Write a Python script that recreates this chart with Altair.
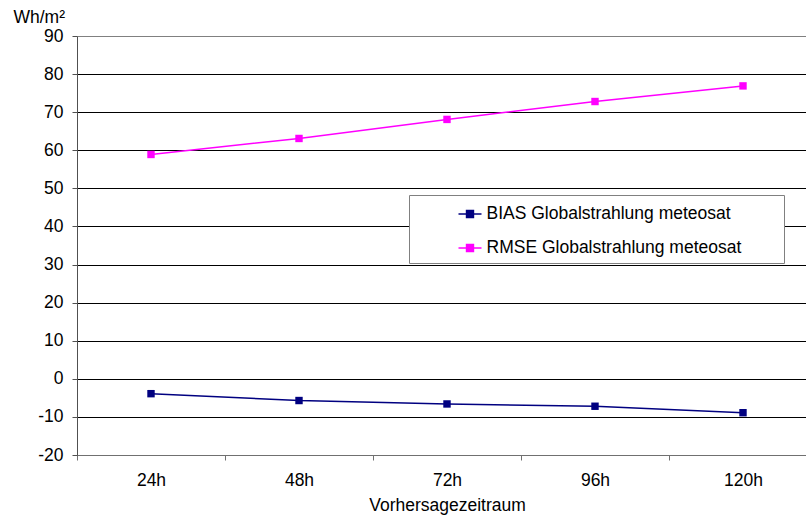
import altair as alt
import pandas as pd

categories = ["24h", "48h", "72h", "96h", "120h"]
bias = [-3.9, -5.7, -6.6, -7.2, -8.9]
rmse = [58.9, 63.1, 68.1, 72.8, 76.9]
series_names = ["BIAS Globalstrahlung meteosat", "RMSE Globalstrahlung meteosat"]
series_colors = ["#000080", "#FF00FF"]

rows = []
for i, c in enumerate(categories):
    rows.append({"Zeitraum": c, "pos": i + 1, "Serie": series_names[0], "Wert": bias[i]})
    rows.append({"Zeitraum": c, "pos": i + 1, "Serie": series_names[1], "Wert": rmse[i]})
df = pd.DataFrame(rows)

FONT = "Liberation Sans"
FS = 17.5
label_arr = "[" + ",".join("'" + c + "'" for c in categories) + "]"
x_vals = [0.5, 1, 1.5, 2, 2.5, 3, 3.5, 4, 4.5, 5]

x_enc = alt.X(
    "pos:Q",
    scale=alt.Scale(domain=[0.5, 5.4257], nice=False, zero=False),
    axis=alt.Axis(
        values=x_vals,
        labelExpr="datum.value % 1 === 0 ? " + label_arr + "[datum.value - 1] : ''",
        tickColor={"condition": {"test": "datum.value % 1 !== 0", "value": "#707070"}, "value": "transparent"},
        tickSize=5,
        grid=False,
        domainColor="#707070",
        labelFont=FONT,
        labelFontSize=FS,
        labelColor="#000000",
        labelPadding=11,
        labelBaseline="top",
        labelFlush=False,
        labelOverlap=False,
        title="Vorhersagezeitraum",
        titleFont=FONT,
        titleFontSize=FS,
        titleFontWeight="normal",
        titleColor="#000000",
        titleX=370,
        titleY=55,
        titleBaseline="alphabetic",
    ),
)
y_enc = alt.Y(
    "Wert:Q",
    scale=alt.Scale(domain=[-20, 90], nice=False, zero=False),
    axis=alt.Axis(
        values=list(range(-20, 91, 10)),
        labelExpr="'' + datum.value",
        tickSize=5,
        tickColor="#505050",
        domainColor="#505050",
        grid=True,
        gridColor={"condition": {"test": "datum.value === 90", "value": "#808080"}, "value": "#000000"},
        gridWidth=1,
        labelFont=FONT,
        labelFontSize=FS,
        labelColor="#000000",
        labelPadding=9,
        title="Wh/m²",
        titleFont=FONT,
        titleFontSize=FS,
        titleFontWeight="normal",
        titleColor="#000000",
        titleAngle=0,
        titleAlign="left",
        titleBaseline="alphabetic",
        titleX=-64,
        titleY=-14,
    ),
)
color_enc = alt.Color(
    "Serie:N",
    scale=alt.Scale(domain=series_names, range=series_colors),
    legend=alt.Legend(
        title="\u00a0",
        titleOrient="right",
        titlePadding=36,
        titleFontSize=FS,
        orient="none",
        legendX=332,
        legendY=159,
        fillColor="#FFFFFF",
        strokeColor="#808080",
        padding=6.5,
        labelFont=FONT,
        labelFontSize=FS,
        labelColor="#000000",
        labelLimit=500,
        symbolType="M-1,0L1,0M-0.3,-0.3L0.3,-0.3L0.3,0.3L-0.3,0.3Z",
        symbolSize=529,
        symbolStrokeWidth=1.5,
        symbolOffset=42,
        rowPadding=13,
        labelOffset=4,
    ),
)

base = alt.Chart(df).encode(x=x_enc, y=y_enc, color=color_enc)
lines = base.mark_line(strokeWidth=1.5)
points = base.mark_point(shape="square", filled=True, size=55, opacity=1)

chart = (
    alt.layer(lines, points)
    .properties(
        width=729,
        height=419,
        autosize=alt.AutoSizeParams(type="none"),
        padding={"left": 77, "top": 36, "right": 0, "bottom": 60},
    )
    .configure_view(stroke=None)
    .configure(background="#FFFFFF")
)

chart.save("out.html", embed_options={"renderer": "svg", "actions": False})
